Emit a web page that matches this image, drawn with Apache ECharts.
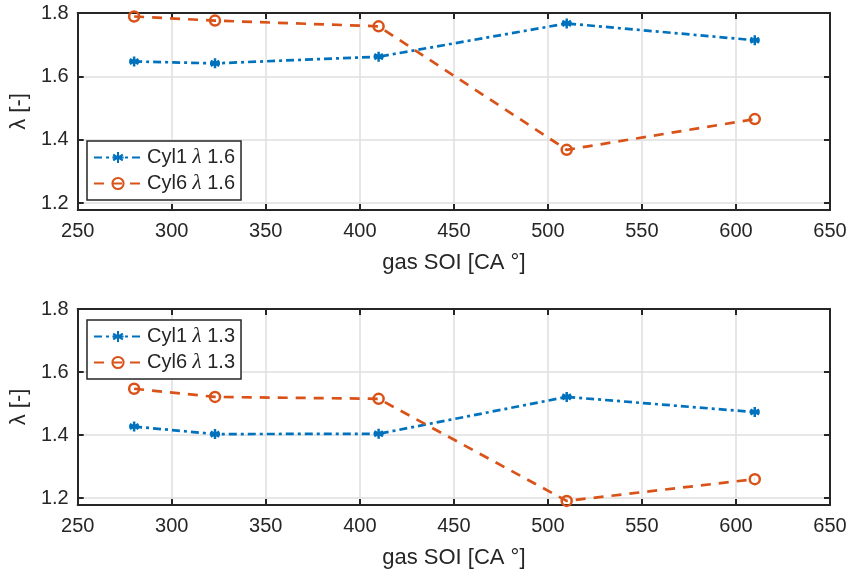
<!DOCTYPE html>
<html><head><meta charset="utf-8">
<script src="https://cdn.jsdelivr.net/npm/echarts@6/dist/echarts.min.js"></script>
<style>html,body{margin:0;padding:0;background:#fff}#c{width:851px;height:574px}</style>
</head><body><div id="c"></div>
<script>
const soi = [280, 323, 410, 510, 610];
const cyl1_16 = [1.647, 1.641, 1.662, 1.767, 1.714];
const cyl6_16 = [1.789, 1.776, 1.758, 1.368, 1.465];
const cyl1_13 = [1.427, 1.403, 1.404, 1.521, 1.473];
const cyl6_13 = [1.547, 1.521, 1.515, 1.191, 1.260];
const yTicks = [1.2, 1.4, 1.6, 1.8];
const names = ['Cyl1 λ 1.6', 'Cyl6 λ 1.6', 'Cyl1 λ 1.3', 'Cyl6 λ 1.3'];

const BLUE = '#0072BD', ORANGE = '#D95319', INK = '#262626', GRIDC = '#dfdfdf';
const FONT = 'Liberation Sans';
const star = 'path://M5,0L5,10M0.67,2.5L9.33,7.5M0.67,7.5L9.33,2.5M0,5L10,5';

const grids = [
  {left: 75, right: 21, top: 13, height: 197},
  {left: 75, right: 21, top: 309, height: 196}
];
function xAx(g, pos) {
  const main = pos === 'bottom';
  return {
    type: 'value', gridIndex: g, position: pos, min: 250, max: 650, interval: 50,
    axisLine: {show: true, onZero: false, lineStyle: {color: INK, width: 2}},
    axisTick: {show: true, inside: true, length: 6, lineStyle: {color: INK, width: 2}},
    axisLabel: {show: main, color: INK, fontFamily: FONT, fontSize: 20, margin: 11},
    splitLine: {show: main, lineStyle: {color: GRIDC, width: 1.5}},
    name: main ? 'gas SOI [CA °]' : '', nameLocation: 'middle', nameGap: 42,
    nameTextStyle: {color: INK, fontFamily: FONT, fontSize: 22}
  };
}
function yAx(g, pos) {
  const main = pos === 'left';
  return {
    type: 'value', gridIndex: g, position: pos, min: 1.178, max: 1.8,
    axisLine: {show: true, onZero: false, lineStyle: {color: INK, width: 2}},
    axisTick: {show: true, inside: true, length: 6, customValues: yTicks, lineStyle: {color: INK, width: 2}},
    axisLabel: {show: main, color: INK, fontFamily: FONT, fontSize: 20, margin: 9, customValues: yTicks,
      formatter: v => v.toFixed(1)},
    splitLine: {show: main, lineStyle: {color: GRIDC, width: 1.5}},
    name: main ? 'λ [-]' : '', nameLocation: 'middle', nameGap: 45,
    nameTextStyle: {color: INK, fontFamily: FONT, fontSize: 22}
  };
}
function s1(name, data, xi, yi) {
  return {
    name, type: 'line', xAxisIndex: xi, yAxisIndex: yi,
    data: soi.map((x, i) => [x, data[i]]),
    symbol: star, symbolSize: 10, showSymbol: true,
    lineStyle: {color: BLUE, width: 2.7, type: [8, 4, 3, 4]},
    itemStyle: {color: BLUE, borderColor: BLUE, borderWidth: 2.5},
    z: 3
  };
}
function s6(name, data, xi, yi) {
  return {
    name, type: 'line', xAxisIndex: xi, yAxisIndex: yi,
    data: soi.map((x, i) => [x, data[i]]),
    symbol: 'circle', symbolSize: 10, showSymbol: true,
    lineStyle: {color: ORANGE, width: 2.7, type: [10, 8]},
    itemStyle: {color: 'rgba(0,0,0,0)', borderColor: ORANGE, borderWidth: 2.5},
    z: 3
  };
}
function leg(top, data) {
  return {
    left: 87, top, orient: 'vertical', data,
    itemWidth: 48, itemHeight: 14, itemGap: 5, padding: [6, 6, 6, 6],
    backgroundColor: '#fff', borderColor: INK, borderWidth: 1.5, borderRadius: 0,
    selectedMode: false,
    formatter: n => { const p = n.split('λ'); return p[0] + '{l|λ}' + p[1]; },
    textStyle: {color: INK, fontFamily: FONT, fontSize: 20,
      rich: {l: {fontFamily: 'Liberation Serif', fontStyle: 'italic', fontSize: 21, color: INK}}}
  };
}

const chart = echarts.init(document.getElementById('c'), null, {renderer: 'canvas'});
chart.setOption({
  animation: false,
  backgroundColor: '#fff',
  grid: grids,
  xAxis: [xAx(0, 'bottom'), xAx(0, 'top'), xAx(1, 'bottom'), xAx(1, 'top')],
  yAxis: [yAx(0, 'left'), yAx(0, 'right'), yAx(1, 'left'), yAx(1, 'right')],
  legend: [leg(141, [names[0], names[1]]), leg(320, [names[2], names[3]])],
  series: [
    s1(names[0], cyl1_16, 0, 0),
    s6(names[1], cyl6_16, 0, 0),
    s1(names[2], cyl1_13, 2, 2),
    s6(names[3], cyl6_13, 2, 2)
  ]
});
</script></body></html>
